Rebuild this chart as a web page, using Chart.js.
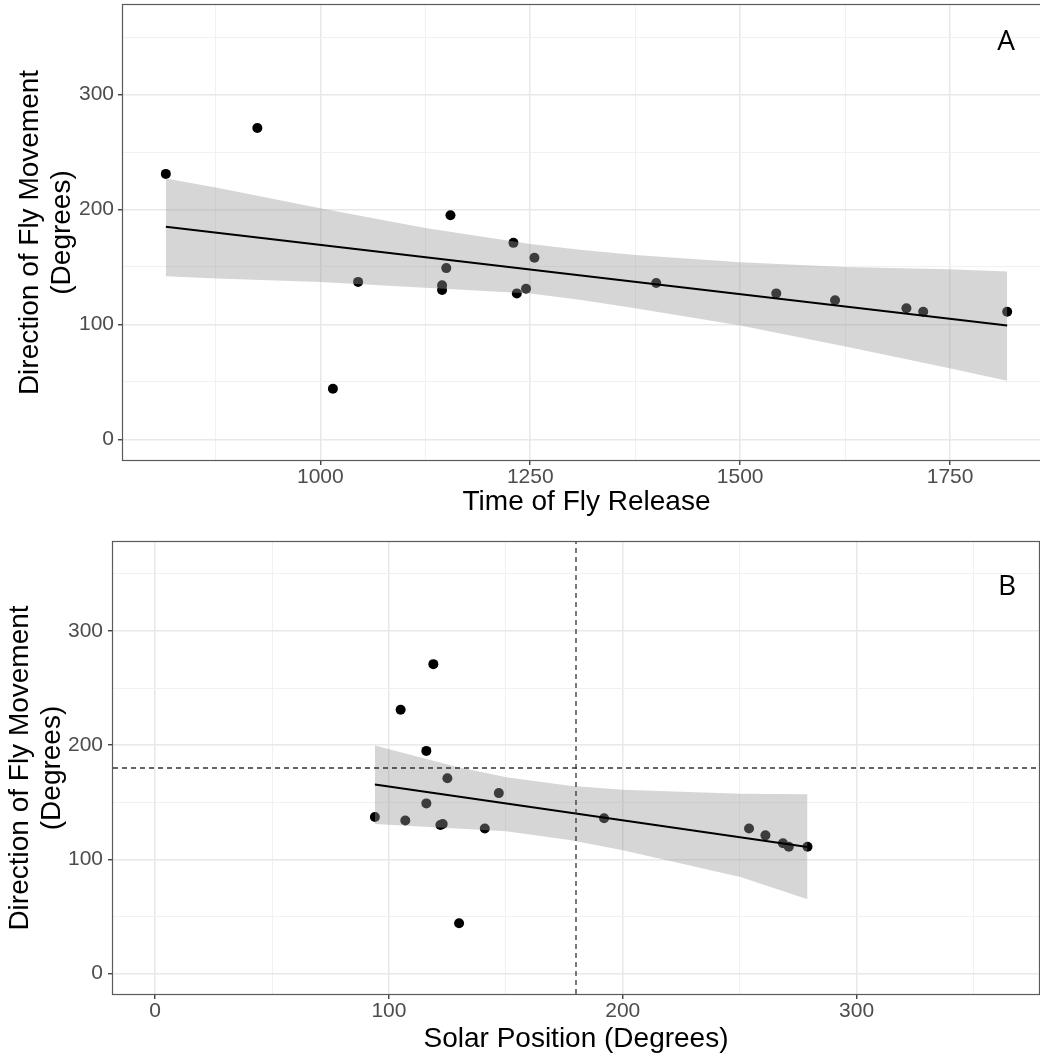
<!DOCTYPE html>
<html>
<head>
<meta charset="utf-8">
<script src="https://cdn.jsdelivr.net/npm/chart.js@4.4.1/dist/chart.umd.min.js"></script>
<style>
html,body{margin:0;padding:0;background:#fff;overflow:hidden;width:1040px;height:1061px;position:relative}
#wa{position:absolute;left:0;top:0;width:1080px;height:530px}
#wb{position:absolute;left:0;top:530px;width:1040px;height:531px}
canvas{display:block}
</style>
</head>
<body>
<div id="wa"><canvas id="ca" width="1080" height="530"></canvas></div>
<div id="wb"><canvas id="cb" width="1040" height="531"></canvas></div>
<script>
// ---- data ----
const releaseTimes     = [816, 925, 1015, 1045, 1155, 1145, 1145, 1150, 1230, 1234, 1245, 1255, 1400, 1543, 1613, 1698, 1718, 1818];
const flyDirections    = [231, 271, 44, 137, 195, 134, 130, 149, 171, 127, 131, 158, 136, 127, 121, 114, 111, 111];
const solarPositions   = [105, 119, 130, 94, 116, 107, 122, 116, 125, 141, 123, 147, 192, 254, 261, 268.5, 271, 279];

const fitTimeX   = [816, 1818];
const fitTimeY   = [185, 99];
const bandTimeX     = [816, 877, 1000, 1125, 1250, 1309, 1375, 1500, 1624, 1748, 1818];
const bandTimeUpper = [227, 219, 201, 184, 170, 165, 160.5, 154, 150, 148, 146];
const bandTimeLower = [142, 140, 137, 132, 127, 121.5, 114, 99, 81, 62, 51];

const fitSolarX  = [94, 279];
const fitSolarY  = [165.6, 110.7];
const bandSolarX     = [94, 128.8, 150.2, 177.2, 200, 250.3, 279];
const bandSolarUpper = [199.7, 181, 172, 164.5, 161, 157.5, 157];
const bandSolarLower = [131, 127, 124.5, 117, 108, 84.5, 65];

const referenceAngle = 180;

const directionRange  = [-18, 378];
const timeRange       = [765, 1869];
const solarRange      = [-18, 378];
const directionTicks  = [0, 50, 100, 150, 200, 250, 300, 350];
const directionLabels = [0, 100, 200, 300];
const timeTicks       = [875, 1000, 1125, 1250, 1375, 1500, 1625, 1750];
const timeLabels      = [1000, 1250, 1500, 1750];
const solarTicks      = [0, 50, 100, 150, 200, 250, 300, 350];
const solarLabels     = [0, 100, 200, 300];

const yTitle = ['Direction of Fly Movement', '(Degrees)'];
const xTitleA = 'Time of Fly Release';
const xTitleB = 'Solar Position (Degrees)';

// ---- helpers ----
const zip = (xs, ys) => xs.map((x, i) => ({x: x, y: ys[i]}));
const FONT = "'Liberation Sans', Arial, sans-serif";

function axis(o) {
  return {
    type: 'linear',
    min: o.range[0], max: o.range[1],
    afterBuildTicks: s => { s.ticks = o.ticks.map(v => ({value: v})); },
    afterFit: s => {
      if (o.horizontal) s.height = o.size; else s.width = o.size;
      s.paddingLeft = 0; s.paddingRight = 0; s.paddingTop = 0; s.paddingBottom = 0;
    },
    border: {display: false},
    grid: {
      drawTicks: true,
      tickLength: 5,
      tickWidth: 1.3,
      color: c => (c.tick && o.labels.includes(c.tick.value)) ? '#e8e8e8' : '#f1f1f1',
      lineWidth: c => (c.tick && o.labels.includes(c.tick.value)) ? 1.5 : 1,
      tickColor: c => (c.tick && o.labels.includes(c.tick.value)) ? '#333333' : 'rgba(0,0,0,0)'
    },
    ticks: {
      autoSkip: false, maxRotation: 0, minRotation: 0,
      padding: o.tickPad,
      color: '#4d4d4d',
      font: {family: FONT, size: 21},
      callback: v => o.labels.includes(v) ? String(v) : ''
    },
    title: {
      display: true,
      text: o.title,
      color: '#000',
      font: {family: FONT, size: 28, lineHeight: 1.12},
      padding: o.titlePad
    }
  };
}

const framePlugin = {
  id: 'frame',
  afterDatasetsDraw(chart, args, opts) {
    const {ctx, chartArea: a} = chart;
    ctx.save();
    ctx.strokeStyle = '#5a5a5a';
    ctx.lineWidth = 1.2;
    ctx.strokeRect(a.left - 0.5, a.top - 0.5, a.right - a.left + 1, a.bottom - a.top + 1);
    ctx.fillStyle = '#000';
    ctx.font = "28px 'Open Sans', sans-serif";
    ctx.textAlign = 'center';
    ctx.textBaseline = 'alphabetic';
    ctx.fillText(opts.letter, opts.lx, opts.ly);
    ctx.restore();
  }
};

function bandDatasets(xs, up, lo) {
  return [
    {data: zip(xs, up), borderColor: 'rgba(0,0,0,0)', borderWidth: 0, pointRadius: 0, fill: '+1',
     backgroundColor: 'rgba(153,153,153,0.4)', tension: 0},
    {data: zip(xs, lo), borderColor: 'rgba(0,0,0,0)', borderWidth: 0, pointRadius: 0, fill: false, tension: 0}
  ];
}
function fitDataset(xs, ys) {
  return {data: zip(xs, ys), borderColor: '#000', borderWidth: 2, pointRadius: 0, fill: false, tension: 0};
}
function pointDataset(xs, ys) {
  return {data: zip(xs, ys), showLine: false, pointRadius: 5, pointHoverRadius: 5,
          pointBackgroundColor: '#000', pointBorderWidth: 0, pointBorderColor: '#000'};
}
function dashDataset(pts) {
  return {data: pts, borderColor: '#333333', borderWidth: 1.3, borderDash: [5, 4], pointRadius: 0, fill: false};
}

function baseOptions(padding, xAxis, yAxis, frame) {
  return {
    responsive: false, animation: false, devicePixelRatio: 1,
    layout: {padding: padding, autoPadding: false},
    plugins: {legend: {display: false}, tooltip: {enabled: false}, frame: frame},
    scales: {x: xAxis, y: yAxis}
  };
}

// ---- Panel A ----
new Chart(document.getElementById('ca'), {
  type: 'line',
  data: {datasets: [
    fitDataset(fitTimeX, fitTimeY),
    ...bandDatasets(bandTimeX, bandTimeUpper, bandTimeLower),
    pointDataset(releaseTimes, flyDirections)
  ]},
  options: baseOptions(
    {left: 0, top: 5, right: 30, bottom: 0},
    axis({horizontal: true, size: 70, range: timeRange, ticks: timeTicks, labels: timeLabels,
          tickPad: 0, title: xTitleA, titlePad: {top: 0, bottom: 12}}),
    axis({horizontal: false, size: 123, range: directionRange, ticks: directionTicks, labels: directionLabels,
          tickPad: 4, title: yTitle, titlePad: {top: 15, bottom: 0}}),
    {letter: 'A', lx: 1006, ly: 50}
  ),
  plugins: [framePlugin]
});

// ---- Panel B ----
new Chart(document.getElementById('cb'), {
  type: 'line',
  data: {datasets: [
    dashDataset([{x: referenceAngle, y: directionRange[0]}, {x: referenceAngle, y: directionRange[1]}]),
    dashDataset([{x: solarRange[0], y: referenceAngle}, {x: solarRange[1], y: referenceAngle}]),
    fitDataset(fitSolarX, fitSolarY),
    ...bandDatasets(bandSolarX, bandSolarUpper, bandSolarLower),
    pointDataset(solarPositions, flyDirections)
  ]},
  options: baseOptions(
    {left: 0, top: 12, right: 1, bottom: 0},
    axis({horizontal: true, size: 67, range: solarRange, ticks: solarTicks, labels: solarLabels,
          tickPad: 0, title: xTitleB, titlePad: {top: 0, bottom: 6}}),
    axis({horizontal: false, size: 113, range: directionRange, ticks: directionTicks, labels: directionLabels,
          tickPad: 5, title: yTitle, titlePad: {top: 5, bottom: 0}}),
    {letter: 'B', lx: 1007, ly: 65}
  ),
  plugins: [framePlugin]
});
</script>
</body>
</html>
